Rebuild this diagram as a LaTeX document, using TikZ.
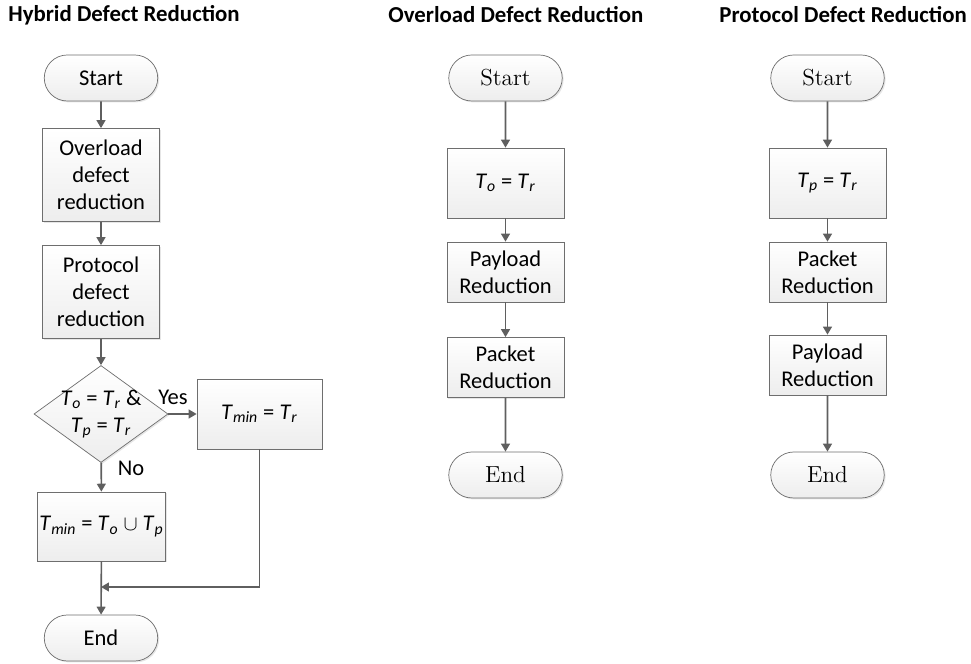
\documentclass[tikz,border=0pt]{standalone}
\usepackage{fontspec}
\setsansfont{Carlito}
\usetikzlibrary{arrows.meta}
\usetikzlibrary{shapes.geometric}
\usetikzlibrary{shapes.misc}
\usetikzlibrary{shadows}
\definecolor{linegray}{HTML}{5F5F5F}
\definecolor{boxedge}{HTML}{6E6E6E}
\newcommand{\tv}[1]{\textit{T}\textsubscript{\textit{#1}}}
\tikzset{
  base/.style={draw=boxedge, top color=white, bottom color=gray!14,
    drop shadow={opacity=0.2,shadow xshift=0.8pt,shadow yshift=-0.8pt},
    font=\sffamily\fontsize{12.8}{15.4}\selectfont, align=center, inner sep=1pt},
  term/.style={base, rounded rectangle, minimum width=23.4mm, minimum height=9.2mm},
  sterm/.style={term, font=\rmfamily\fontsize{13.2}{15.4}\selectfont},
  proc/.style={base, rectangle, minimum width=23.4mm},
  decide/.style={base, diamond, shape aspect=1.4, minimum width=26.8mm, minimum height=19.4mm, inner sep=-3.5pt},
  flow/.style={draw=linegray, line width=0.9pt, -{Triangle[length=4.5pt,width=5pt]}},
  title/.style={font=\sffamily\bfseries\fontsize{13}{15.4}\selectfont, anchor=west, inner sep=0pt},
  lbl/.style={font=\sffamily\fontsize{12.8}{15.4}\selectfont}
}
\begin{document}
\begin{tikzpicture}[x=0.2mm,y=-0.2mm]
  \useasboundingbox (0,0) rectangle (971,664);
  \node[title] (t1) at (8,15) {Hybrid Defect Reduction};
  \node[title] (t2) at (388,15) {Overload Defect Reduction};
  \node[title] (t3) at (719,15) {Protocol Defect Reduction};

  \node[term] (hstart) at (101,78) {Start};
  \node[proc, minimum height=18.6mm] (hover) at (101,175) {Overload\\defect\\reduction};
  \node[proc, minimum height=18.6mm] (hprot) at (101,292) {Protocol\\defect\\reduction};
  \node[decide] (hcheck) at (101,414) {\tv{o} = \tv{r} \&\\\tv{p} = \tv{r}};
  \node[proc, minimum width=25mm, minimum height=14mm] (hyes) at (259.5,414) {\tv{min} = \tv{r}};
  \node[proc, minimum width=24.6mm, minimum height=13.8mm] (hno) at (101.5,526.5) {\tv{min} = \tv{o} $\cup$ \tv{p}};
  \node[term] (hend) at (101,638) {End};
  \coordinate (hmerge) at (101,587);
  \node[lbl] (lyes) at (173,397) {Yes};
  \node[lbl] (lno) at (131,468) {No};
  \draw[flow] (hstart) -- (hover);
  \draw[flow] (hover) -- (hprot);
  \draw[flow] (hprot) -- (hcheck);
  \draw[flow] (hcheck) -- (hyes);
  \draw[flow] (hcheck) -- (hno);
  \draw[flow] (hno) -- (hend);
  \draw[flow] (hyes.south) |- (hmerge);

  \node[sterm] (ostart) at (505.5,78) {Start};
  \node[proc, minimum height=14mm] (oset) at (505.5,183) {\tv{o} = \tv{r}};
  \node[proc, minimum height=12mm] (opay) at (505.5,272) {Payload\\Reduction};
  \node[proc, minimum height=12mm] (opack) at (505.5,367.5) {Packet\\Reduction};
  \node[sterm] (oend) at (505.5,475) {End};
  \draw[flow] (ostart) -- (oset);
  \draw[flow] (oset) -- (opay);
  \draw[flow] (opay) -- (opack);
  \draw[flow] (opack) -- (oend);

  \node[sterm] (pstart) at (827.5,78) {Start};
  \node[proc, minimum height=14mm] (pset) at (827.5,183) {\tv{p} = \tv{r}};
  \node[proc, minimum height=12mm] (ppack) at (827.5,272) {Packet\\Reduction};
  \node[proc, minimum height=12mm] (ppay) at (827.5,365) {Payload\\Reduction};
  \node[sterm] (pend) at (827.5,475) {End};
  \draw[flow] (pstart) -- (pset);
  \draw[flow] (pset) -- (ppack);
  \draw[flow] (ppack) -- (ppay);
  \draw[flow] (ppay) -- (pend);
\end{tikzpicture}
\end{document}
